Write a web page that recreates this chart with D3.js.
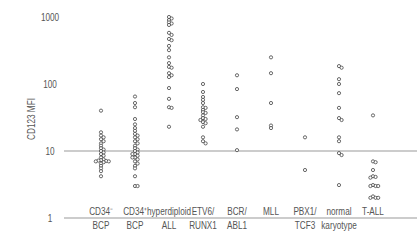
<!DOCTYPE html>
<html>
<head>
<meta charset="utf-8">
<script src="https://cdn.jsdelivr.net/npm/d3@7"></script>
<style>
  body { margin: 0; background: #fff; }
  text { font-family: "Liberation Sans", Arial, sans-serif; fill: #555; }
</style>
</head>
<body>
<div id="container"></div>
<script>
let w = 417;
let h = 240;

// DATA
let groups = ["cd34neg", "cd34pos", "hyper", "etv6", "bcr", "mll", "pbx1", "normal", "tall"];
let labelTop = ["CD34\u207B", "CD34\u207A", "hyperdiploid", "ETV6/", "BCR/", "MLL", "PBX1/", "normal", "T-ALL"];
let labelBottom = ["BCP", "BCP", "ALL", "RUNX1", "ABL1", "", "TCF3", "karyotype", ""];

let cd34neg = [40, 19, 17, 16, 15, 14, 13, 12, 11, 10.5, 10, 9.5, 9, 8.5, 8, 7.5, 7.3, 7.2, 7.1, 7, 7, 6.8, 6.5, 6, 5.5, 5, 4.2];
let cd34pos = [65, 52, 45, 30, 25, 22, 20, 18, 17, 16, 15, 14, 13, 12, 11, 10.5, 10, 9.5, 9, 9, 8.5, 8, 8, 7.5, 7, 6.5, 6, 5.5, 4.2, 3, 3];
let hyper = [1000, 950, 900, 830, 800, 760, 580, 540, 470, 450, 370, 320, 250, 205, 180, 175, 145, 135, 127, 87, 60, 45, 44, 23];
let etv6 = [100, 76, 64, 58, 52, 45, 44, 41, 38, 37, 34, 31, 30, 29, 27, 26, 23, 16, 14, 13];
let bcr = [135, 84, 32, 21, 10.3];
let mll = [250, 145, 52, 24, 22];
let pbx1 = [16, 5.2];
let normal = [185, 175, 118, 100, 73, 44, 31, 29, 16, 14, 9.3, 8.7, 3.1];
let tall = [34, 7, 6.8, 5.2, 4.2, 4.1, 4, 3.1, 3, 3, 3, 2.1, 2, 2, 2];
let values = [cd34neg, cd34pos, hyper, etv6, bcr, mll, pbx1, normal, tall];

let yTicks = [1, 10, 100, 1000];

let viz = d3.select("#container").append("svg")
    .attr("width", w)
    .attr("height", h)
;

// SCALES
let xScale = d3.scalePoint().domain(groups).range([101, 373]);
let yScale = d3.scaleLog().domain([1, 1000]).range([218, 17]);

let squeeze = 0.82; // condensed look for the labels

// reference lines at 1 and 10
viz.selectAll(".refline").data([1, 10]).enter()
  .append("line")
    .attr("class", "refline")
    .attr("x1", 64)
    .attr("x2", w)
    .attr("y1", d => yScale(d))
    .attr("y2", d => yScale(d))
    .attr("stroke", "#999")
    .attr("stroke-width", 1)
;

// y tick labels
viz.selectAll(".ytick").data(yTicks).enter()
  .append("text")
    .attr("class", "ytick")
    .attr("transform", d => "translate(50," + yScale(d) + ") scale(" + squeeze + ",1)")
    .attr("dy", "0.35em")
    .attr("text-anchor", "middle")
    .attr("font-size", 10)
    .text(d => d)
;

viz.append("text")
    .attr("transform", "translate(31,119) rotate(-90) scale(" + squeeze + ",1)")
    .attr("text-anchor", "middle")
    .attr("dy", "0.35em")
    .attr("font-size", 10)
    .text("CD123 MFI")
;

// category labels
viz.selectAll(".lab1").data(groups).enter()
  .append("text")
    .attr("transform", d => "translate(" + xScale(d) + ",215) scale(" + squeeze + ",1)")
    .attr("text-anchor", "middle")
    .attr("font-size", 10)
    .text((d, i) => labelTop[i])
;
viz.selectAll(".lab2").data(groups).enter()
  .append("text")
    .attr("transform", d => "translate(" + xScale(d) + ",229) scale(" + squeeze + ",1)")
    .attr("text-anchor", "middle")
    .attr("font-size", 10)
    .text((d, i) => labelBottom[i])
;

// simple dodge so overlapping dots spread sideways
let r = 1.6;
let points = [];
groups.forEach(function(g, gi) {
  let placed = [];
  values[gi].slice().sort((a, b) => b - a).forEach(function(v) {
    let y = yScale(v);
    let offsets = [0, 2.6, -2.6, 5.2, -5.2, 7.8, -7.8];
    let dx = 0;
    for (let o of offsets) {
      let clash = placed.some(p => Math.abs(p.dx - o) < 2.4 && Math.abs(p.y - y) < 2.2);
      if (!clash) { dx = o; break; }
    }
    placed.push({dx: dx, y: y});
    points.push({x: xScale(g) + dx, y: y});
  });
});

viz.selectAll("circle").data(points).enter()
  .append("circle")
    .attr("cx", d => d.x)
    .attr("cy", d => d.y)
    .attr("r", r)
    .attr("fill", "white")
    .attr("stroke", "#444")
    .attr("stroke-width", 0.8)
;
</script>
</body>
</html>
